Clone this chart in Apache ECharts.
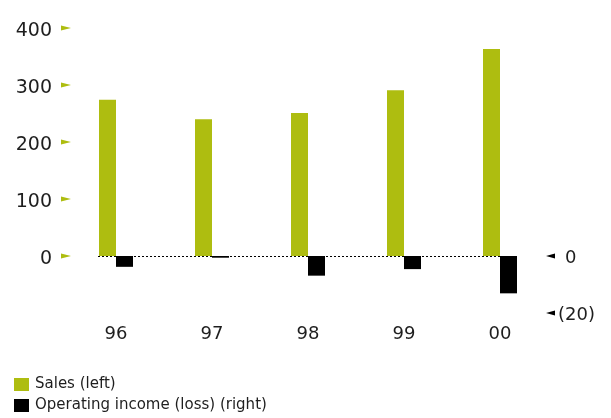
<!DOCTYPE html>
<html>
<head>
<meta charset="utf-8">
<script src="https://cdn.jsdelivr.net/npm/echarts@6/dist/echarts.min.js"></script>
<style>
  html, body { margin: 0; padding: 0; background: #fff; }
  #chart { width: 611px; height: 418px; }
</style>
</head>
<body>
<div id="chart"></div>
<script>
// Fiscal years and values
const years = ['96', '97', '98', '99', '00'];
const sales = [274, 240, 251, 291, 363];
const operatingIncome = [-3.8, -0.6, -6.9, -4.6, -13.1];
const salesTicks = [0, 100, 200, 300, 400];
const incomeTicks = [0, -20];

const GREEN = '#aebd10';
const TEXT = '#1e1e1e';
const FONT = 'DejaVu Sans';
const BAR_W = 17;

const chart = echarts.init(document.getElementById('chart'), null, { renderer: 'canvas' });

chart.setOption({
  animation: false,
  grid: { left: 68, right: 63, top: 28, bottom: 105 },
  legend: {
    orient: 'vertical',
    left: 14,
    top: 377,
    padding: 0,
    itemWidth: 15,
    itemHeight: 13,
    itemGap: 6,
    icon: 'rect',
    textStyle: { fontFamily: FONT, fontSize: 15, color: TEXT, padding: [0, 0, 0, 1] },
    data: ['Sales (left)', 'Operating income (loss) (right)']
  },
  xAxis: {
    type: 'category',
    data: years,
    axisLine: { show: false },
    axisTick: { show: false },
    axisLabel: { fontFamily: FONT, fontSize: 18, color: TEXT, margin: 12 }
  },
  yAxis: [
    {
      type: 'value',
      min: -100,
      max: 400,
      interval: 100,
      splitLine: { show: false },
      axisLine: { show: false },
      axisTick: { show: false },
      axisLabel: {
        margin: 16,
        fontFamily: FONT,
        fontSize: 19,
        color: TEXT,
        padding: [7, 0, 0, 0],
        formatter: v => (salesTicks.includes(v) ? '{n|' + v + '}' : ''),
        rich: {
          n: { fontFamily: FONT, fontSize: 19, color: TEXT }
        }
      }
    },
    {
      type: 'value',
      position: 'right',
      min: -20,
      max: 80,
      interval: 20,
      splitLine: { show: false },
      axisLine: { show: false },
      axisTick: { show: false },
      axisLabel: {
        margin: 10,
        fontFamily: FONT,
        fontSize: 18,
        color: TEXT,
        padding: [4, 0, 0, 0],
        formatter: v => {
          if (!incomeTicks.includes(v)) return '';
          // negatives in parentheses; positives keep digits aligned
          return v < 0 ? '(' + (-v) + ')' : '{pad|(}' + v;
        },
        rich: {
          pad: { fontFamily: FONT, fontSize: 18, color: 'rgba(0,0,0,0)' }
        }
      }
    }
  ],
  series: [
    {
      name: 'Sales (left)',
      type: 'bar',
      data: sales,
      barWidth: BAR_W,
      barGap: '0%',
      itemStyle: { color: GREEN }
    },
    {
      name: 'Operating income (loss) (right)',
      type: 'bar',
      yAxisIndex: 1,
      data: operatingIncome,
      barWidth: BAR_W,
      barGap: '0%',
      itemStyle: { color: '#000' }
    }
  ]
});

// Zero baseline and axis tick pointers, placed through the axis scales
const xFirst = chart.convertToPixel({ xAxisIndex: 0 }, 0);
const xLast = chart.convertToPixel({ xAxisIndex: 0 }, years.length - 1);
const yZero = Math.round(chart.convertToPixel({ yAxisIndex: 0 }, 0)) + 0.5;
const gridLeft = 68;
const gridRight = 611 - 63;

const graphics = [
  {
    type: 'line',
    z: 10,
    shape: { x1: xFirst - BAR_W - 1, y1: yZero, x2: xLast + BAR_W, y2: yZero },
    style: { stroke: '#000', lineWidth: 1, lineDash: [2, 2] }
  }
];

salesTicks.forEach(v => {
  const y = chart.convertToPixel({ yAxisIndex: 0 }, v);
  graphics.push({
    type: 'polygon',
    shape: { points: [[gridLeft - 7, y - 2.5], [gridLeft + 3, y], [gridLeft - 7, y + 2.5]] },
    style: { fill: GREEN }
  });
});

incomeTicks.forEach(v => {
  const y = chart.convertToPixel({ yAxisIndex: 1 }, v);
  graphics.push({
    type: 'polygon',
    shape: { points: [[gridRight - 2, y], [gridRight + 7, y - 2.5], [gridRight + 7, y + 2.5]] },
    style: { fill: '#000' }
  });
});

chart.setOption({ graphic: graphics });
</script>
</body>
</html>
